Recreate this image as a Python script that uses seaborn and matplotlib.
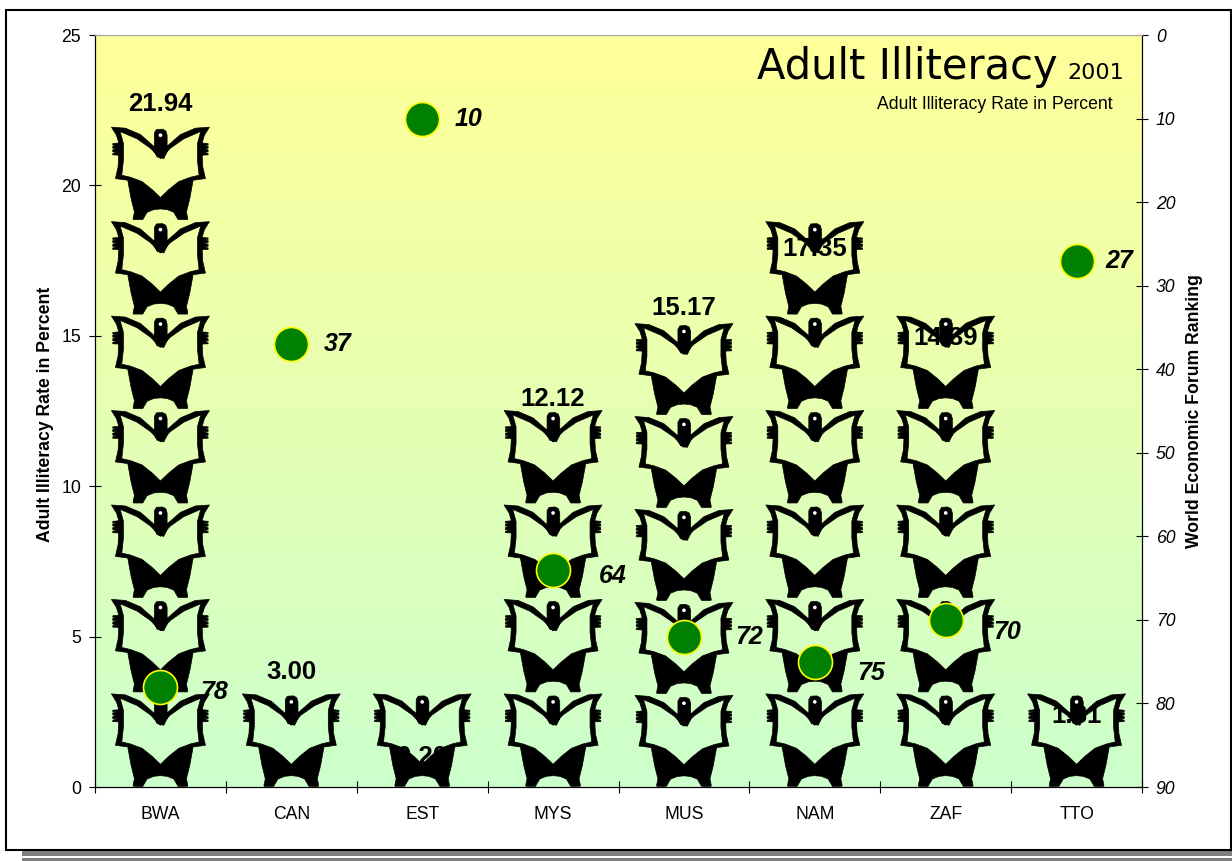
import math
import numpy as np
import pandas as pd
import matplotlib
matplotlib.use('Agg')
import matplotlib.pyplot as plt
import seaborn as sns
from matplotlib.path import Path
from matplotlib.patches import PathPatch, Rectangle, Ellipse
from matplotlib.colors import LinearSegmentedColormap
from matplotlib.transforms import Affine2D

countries = ['BWA', 'CAN', 'EST', 'MYS', 'MUS', 'NAM', 'ZAF', 'TTO']
illiteracy = [21.94, 3.00, 0.20, 12.12, 15.17, 17.35, 14.39, 1.81]
ranking = [78, 37, 10, 64, 72, 75, 70, 27]

# label offsets in pixels, they differ per bar in the original
value_lift = [23, 25, 24, 23, 23, 16, 16, 17]
rank_dx = [55, 47, 47, 61, 66, 57, 62, 44]
rank_dy = [5, 0, 0, 6, 0, 11, 12, 0]

# one icon covers this many percent, MUS is a bit tighter
icon_unit = 3.14
icon_unit_other = {'MUS': 3.09}

W, H = 1232, 861
LEFT, RIGHT, TOP, BOTTOM = 95, 1142, 35, 787
FONT = ['Liberation Sans', 'DejaVu Sans']
FS = 12.7

sns.set_style('white')
plt.rcParams['font.family'] = FONT
plt.rcParams['text.color'] = 'black'
plt.rcParams['axes.labelcolor'] = 'black'
plt.rcParams['xtick.color'] = 'black'
plt.rcParams['ytick.color'] = 'black'

df = pd.DataFrame({'code': countries, 'rate': illiteracy, 'rank': ranking})

fig = plt.figure(figsize=(W / 100, H / 100), dpi=100, facecolor='white')


def px_box(x0, y0, x1, y1, **kw):
    fig.patches.append(Rectangle((x0 / W, 1 - y1 / H), (x1 - x0) / W, (y1 - y0) / H,
                                 transform=fig.transFigure, figure=fig, zorder=-1, **kw))


# page frame and the grey shadow under it
px_box(22, 851, W, 856, fc='#808080', ec='none')
px_box(22, 858, W, H, fc='#808080', ec='none')
px_box(6, 10, 1231, 850, fc='white', ec='black', lw=1.5)

ax = fig.add_axes([LEFT / W, 1 - BOTTOM / H, (RIGHT - LEFT) / W, (BOTTOM - TOP) / H])

grad = LinearSegmentedColormap.from_list('bg', ['#FFFF99', '#CCFFCC'])
ax.imshow(np.linspace(0, 1, 256).reshape(-1, 1), cmap=grad, aspect='auto',
          extent=(0, 1, 0, 1), transform=ax.transAxes, zorder=0)

sns.barplot(data=df, x='code', y='rate', order=countries, fill=False, linewidth=0, ax=ax)
ax.set_xlim(-0.5, 7.5)
ax.set_ylim(0, 25)
bars = list(ax.patches)

# icon outline, drawn in zoomed pixels: dx from centre, dy up from foot. left half only
half = [(0, 205), (-20, 222), (-60, 257), (-105, 276), (-147, 279), (-132, 255),
        (-125, 232), (-125, 198), (-127, 160), (-135, 125), (-98, 120),
        (-88, 65), (-78, 25), (-82, 5), (-81, 2), (-53, 2),
        (-40, 24), (-20, 32), (0, 34)]
hole = [(0, 185), (-30, 216), (-70, 244), (-121, 266), (-111, 230), (-111, 180),
        (-116, 135), (-90, 129), (-55, 116), (-25, 92), (0, 68)]
head = [(-18, 205), (-18, 262), (-12, 272), (6, 273), (16, 268), (20, 255), (20, 205), (10, 185), (-10, 190)]
fingers = [(-120, 232), (-143, 230), (-143, 226), (-130, 225), (-143, 222), (-143, 216), (-130, 215),
           (-143, 211), (-143, 205), (-130, 204), (-143, 200), (-143, 196), (-120, 195)]


def oriented(poly, sign):
    # same winding everywhere, otherwise overlaps punch holes
    area = sum(a[0] * b[1] - b[0] * a[1] for a, b in zip(poly, poly[1:] + poly[:1]))
    return poly if area * sign > 0 else poly[::-1]


outer = half + [(-x, y) for x, y in reversed(half[1:-1])]
inner = hole + [(-x, y) for x, y in reversed(hole[1:-1])]
shapes = [oriented(outer, 1), oriented(inner, -1), oriented(head, 1), oriented(fingers, 1),
          oriented([(-x, y) for x, y in fingers], 1)]
verts, codes = [], []
for poly in shapes:
    verts += poly + [poly[0]]
    codes += [Path.MOVETO] + [Path.LINETO] * (len(poly) - 1) + [Path.CLOSEPOLY]
icon_path = Path(np.array(verts, float), codes)

cat_px = (RIGHT - LEFT) / 8

for bar, code in zip(bars, countries):
    rate = bar.get_height()
    cx = bar.get_x() + bar.get_width() / 2
    unit = icon_unit_other.get(code, icon_unit)
    sy = unit / 283
    for k in range(math.ceil(rate / unit)):
        tr = Affine2D().scale(1 / (3 * cat_px), sy).translate(cx, k * unit) + ax.transData
        ax.add_patch(PathPatch(icon_path, fc='black', ec='black', lw=0.5, joinstyle='round',
                               transform=tr, zorder=2))
        ax.add_patch(Ellipse((0, 255), 11, 11, fc='white', ec='none', transform=tr, zorder=2.1))

for i, bar in enumerate(bars):
    ax.annotate(f'{bar.get_height():.2f}', (bar.get_x() + bar.get_width() / 2, bar.get_height()),
                xytext=(0, value_lift[i] * 0.72), textcoords='offset points',
                ha='center', va='center', fontsize=18.5, fontweight='bold', color='black', zorder=3)

ax2 = ax.twinx()
sns.scatterplot(data=df, x='code', y='rank', s=600, color='#008000', edgecolor='#FFFF00',
                linewidth=1.2, ax=ax2, zorder=5, clip_on=False)
ax2.set_xlim(-0.5, 7.5)
ax2.set_ylim(90, 0)
ax2.set_yticks(range(0, 91, 10))

for i, r in enumerate(ranking):
    ax2.annotate(str(r), (i, r), xytext=((rank_dx[i] - 1) * 0.72, -rank_dy[i] * 0.72),
                 textcoords='offset points', ha='center', va='center',
                 fontsize=18, fontweight='bold', fontstyle='italic', color='black', zorder=6)

ax.set_xticks(np.arange(-0.5, 8, 1), minor=False)
ax.set_xticklabels([])
ax.set_xticks(range(8), countries, minor=True)
ax.tick_params(axis='x', which='major', direction='inout', length=8, width=0.8, color='black', bottom=True)
ax.tick_params(axis='x', which='minor', length=0, labelsize=FS, pad=14, bottom=True)
ax.set_yticks(range(0, 26, 5))
ax.tick_params(axis='y', direction='inout', length=8, width=0.8, color='black', labelsize=FS, pad=6, left=True)
ax2.tick_params(axis='y', direction='inout', length=8, width=0.8, color='black', labelsize=FS, pad=6, right=True)
for t in ax2.get_yticklabels():
    t.set_fontstyle('italic')

ax.set_xlabel('')
ax.set_ylabel('Adult Illiteracy Rate in Percent', fontsize=FS, fontweight='bold')
ax.yaxis.set_label_coords(-0.0395, 0.495)
ax2.set_xlabel('')
ax2.set_ylabel('World Economic Forum Ranking', fontsize=FS, fontweight='bold', rotation=90)
ax2.yaxis.set_label_coords(1.042, 0.5)

for a in (ax, ax2):
    for s in a.spines.values():
        s.set_linewidth(0.8)
        s.set_color('black')
    a.spines['top'].set_color('#AAAAAA')
    a.grid(False)

ax2.text((1058 - LEFT) / (RIGHT - LEFT), (BOTTOM - 79) / (BOTTOM - TOP), 'Adult Illiteracy',
         transform=ax2.transAxes, ha='right', va='baseline', fontsize=30,
         family='DejaVu Sans', color='black')
ax2.text((1124 - LEFT) / (RIGHT - LEFT), (BOTTOM - 79) / (BOTTOM - TOP), '2001',
         transform=ax2.transAxes, ha='right', va='baseline', fontsize=16,
         family='DejaVu Sans', color='black')
ax2.text((1113 - LEFT) / (RIGHT - LEFT), (BOTTOM - 109) / (BOTTOM - TOP), 'Adult Illiteracy Rate in Percent',
         transform=ax2.transAxes, ha='right', va='baseline', fontsize=FS, color='black')

fig.savefig('out.png', dpi=100, facecolor='white')
